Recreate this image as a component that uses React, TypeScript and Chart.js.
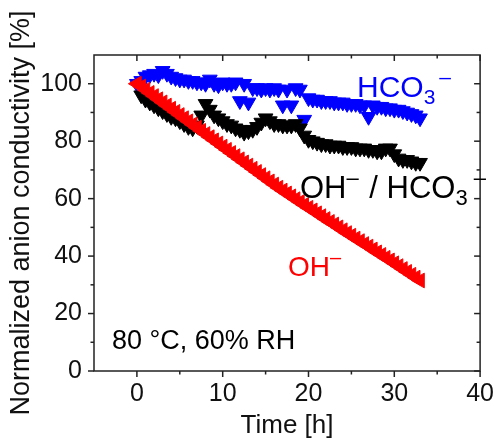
import React, { useEffect, useRef } from "react";
import { Chart, registerables } from "chart.js";

Chart.register(...registerables);

// ---- data ----
const hours = [
  0, 0.5, 1, 1.5, 2, 2.5, 3, 3.5, 4, 4.5,
  5, 5.5, 6, 6.5, 7, 7.5, 8, 8.5, 9, 9.5,
  10, 10.5, 11, 11.5, 12, 12.5, 13, 13.5, 14, 14.5,
  15, 15.5, 16, 16.5, 17, 17.5, 18, 18.5, 19, 19.5,
  20, 20.5, 21, 21.5, 22, 22.5, 23, 23.5, 24, 24.5,
  25, 25.5, 26, 26.5, 27, 27.5, 28, 28.5, 29, 29.5,
  30, 30.5, 31, 31.5, 32, 32.5, 33,
];

const ohValues = [
  100, 99.0, 97.9, 96.8, 95.7, 94.6, 93.5, 92.4, 91.3, 90.2,
  89.1, 88.0, 86.9, 85.8, 84.7, 83.6, 82.5, 81.4, 80.3, 79.2,
  78.1, 77.0, 75.9, 74.8, 73.7, 72.6, 71.5, 70.4, 69.3, 68.2,
  67.1, 66.0, 64.9, 63.8, 62.8, 61.8, 60.8, 59.8, 58.8, 57.8,
  56.8, 55.9, 54.9, 53.9, 52.9, 51.9, 51.0, 50.0, 49.0, 48.0,
  47.1, 46.1, 45.2, 44.2, 43.3, 42.3, 41.3, 40.4, 39.4, 38.5,
  37.5, 36.5, 35.5, 34.5, 33.5, 32.5, 31.5,
];

const mixedValues = [
  null, 96.0, 94.5, 93.5, 92.5, 91.5, 90.5, 89.5, 88.5, 88.0,
  87.0, 86.0, 85.0, 84.5, 85.5, 89.0, 93.0, 91.0, 89.0, 88.0,
  87.0, 86.0, 85.5, 84.5, 84.0, 83.0, 83.5, 84.0, 85.0, 86.5,
  88.0, 87.0, 86.0, 86.0, 85.5, 85.5, 85.5, 86.0, 84.5, 82.0,
  80.5, 80.0, 79.5, 79.0, 79.0, 78.5, 78.5, 78.5, 78.0, 78.0,
  78.0, 77.5, 77.5, 77.5, 77.0, 77.0, 76.5, 76.5, 77.5, 77.5,
  75.5, 74.0, 73.5, 73.5, 73.0, 72.5, 72.5,
];

const hco3Values = [
  100, 101.0, 102.5, 103.0, 103.5, 103.0, 104.5, 103.5, 102.5, 102.0,
  101.5, 101.5, 101.0, 101.0, 100.5, 100.5, 100.0, 101.5, 100.0, 99.5,
  100.5, 100.0, 100.0, 100.5, 94.0, 100.0, 93.5, 98.5, 98.5, 98.0,
  98.5, 98.0, 98.5, 98.0, 92.5, 98.0, 92.5, 98.5, 98.0, 87.5,
  95.0, 94.5, 94.5, 94.0, 94.0, 94.0, 93.5, 93.5, 93.5, 93.0,
  93.0, 93.0, 92.5, 92.5, 88.5, 92.5, 92.0, 92.0, 91.5, 91.5,
  91.0, 91.0, 90.5, 90.0, 89.5, 89.0, 88.0,
];

const xMajorTicks = [0, 10, 20, 30, 40];
const xMinorTicks = [5, 15, 25, 35];
const yMajorTicks = [0, 20, 40, 60, 80, 100];
const yMinorTicks = [10, 30, 50, 70, 90];

const FONT = '"Liberation Sans", Arial, Helvetica, sans-serif';

type Seg = { text: string; size: number; dy?: number; dx?: number };

function drawRich(ctx: CanvasRenderingContext2D, x: number, y: number, segs: Seg[], color: string) {
  ctx.fillStyle = color;
  ctx.textAlign = "left";
  ctx.textBaseline = "alphabetic";
  let cx = x;
  for (const s of segs) {
    ctx.font = `${s.size}px ${FONT}`;
    const dx = s.dx || 0;
    ctx.fillText(s.text, cx + dx, y + (s.dy || 0));
    cx += dx + ctx.measureText(s.text).width;
  }
}

const framePlugin = {
  id: "frameTicks",
  afterDraw(chart: any) {
    const { ctx, chartArea: a, scales } = chart;
    const xs = scales.x;
    const ys = scales.y;
    ctx.save();
    ctx.strokeStyle = "#222";
    ctx.lineWidth = 1.5;
    ctx.strokeRect(a.left, a.top, a.right - a.left, a.bottom - a.top);
    const tick = (x1: number, y1: number, x2: number, y2: number) => {
      ctx.beginPath();
      ctx.moveTo(x1, y1);
      ctx.lineTo(x2, y2);
      ctx.stroke();
    };
    for (const v of xMajorTicks) {
      const p = xs.getPixelForValue(v);
      tick(p, a.bottom, p, a.bottom + 6);
      tick(p, a.top, p, a.top + 6);
    }
    for (const v of xMinorTicks) {
      const p = xs.getPixelForValue(v);
      tick(p, a.bottom, p, a.bottom + 3.5);
      tick(p, a.top, p, a.top + 3.5);
    }
    for (const v of yMajorTicks) {
      const p = ys.getPixelForValue(v);
      tick(a.left - 6, p, a.left, p);
      tick(a.right - 6, p, a.right, p);
    }
    for (const v of yMinorTicks) {
      const p = ys.getPixelForValue(v);
      tick(a.left - 3.5, p, a.left, p);
      tick(a.right - 3.5, p, a.right, p);
    }
    ctx.restore();

    ctx.save();
    drawRich(ctx, 357, 97, [
      { text: "HCO", size: 30 },
      { text: "3", size: 21, dy: 7 },
      { text: "\u2013", size: 21, dy: -13, dx: 4 },
    ], "#0000ff");
    drawRich(ctx, 300, 198, [
      { text: "OH", size: 31 },
      { text: "\u2013", size: 22, dy: -13 },
      { text: " / HCO", size: 31, dx: 2 },
      { text: "3", size: 22, dy: 7 },
      { text: "\u2013", size: 22, dy: -13, dx: 6 },
    ], "#000000");
    drawRich(ctx, 288, 276, [
      { text: "OH", size: 28 },
      { text: "\u2013", size: 20, dy: -12 },
    ], "#ff0000");
    drawRich(ctx, 112, 349, [{ text: "80 \u00b0C, 60% RH", size: 27 }], "#000000");
    ctx.restore();
  },
};

function toPoints(vals: (number | null)[]) {
  const pts: { x: number; y: number }[] = [];
  hours.forEach((h, i) => {
    const v = vals[i];
    if (v !== null && v !== undefined) pts.push({ x: h, y: v });
  });
  return pts;
}

export default function App() {
  const ref = useRef<HTMLCanvasElement | null>(null);
  useEffect(() => {
    if (!ref.current) return;
    const chart = new Chart(ref.current, {
      type: "scatter",
      data: {
        datasets: [
          {
            label: "OH\u207b",
            data: toPoints(ohValues),
            backgroundColor: "#ff0000",
            borderColor: "#ff0000",
            pointStyle: "triangle",
            rotation: 270,
            pointRadius: 8.5,
            borderWidth: 1,
          },
          {
            label: "OH\u207b / HCO3\u207b",
            data: toPoints(mixedValues),
            backgroundColor: "#000000",
            borderColor: "#000000",
            pointStyle: "triangle",
            rotation: 180,
            pointRadius: 8.5,
            borderWidth: 1,
          },
          {
            label: "HCO3\u207b",
            data: toPoints(hco3Values),
            backgroundColor: "#0000ff",
            borderColor: "#0000ff",
            pointStyle: "triangle",
            rotation: 180,
            pointRadius: 8.5,
            borderWidth: 1,
          },
        ],
      },
      options: {
        responsive: false,
        animation: false,
        events: [],
        layout: { padding: { top: 55, right: 16, left: 0, bottom: 0 } },
        plugins: { legend: { display: false }, tooltip: { enabled: false } },
        scales: {
          x: {
            type: "linear",
            min: -5,
            max: 40,
            grid: { display: false, drawTicks: false },
            border: { display: false },
            ticks: {
              stepSize: 10,
              includeBounds: false,
              autoSkip: false,
              maxRotation: 0,
              padding: 8,
              color: "#111",
              font: { family: FONT, size: 25 },
            },
            title: {
              display: true,
              text: "Time [h]",
              color: "#111",
              font: { family: FONT, size: 26, lineHeight: 1.0 },
              padding: { top: 0, bottom: 1 },
            },
            afterFit: (s: any) => {
              s.height = 69;
            },
          },
          y: {
            type: "linear",
            min: 0,
            max: 110,
            grid: { display: false, drawTicks: false },
            border: { display: false },
            ticks: {
              stepSize: 20,
              includeBounds: false,
              autoSkip: false,
              padding: 12,
              color: "#111",
              font: { family: FONT, size: 25 },
            },
            title: {
              display: true,
              text: "Normalized anion conductivity [%]",
              color: "#111",
              font: { family: FONT, size: 27, lineHeight: 1.0 },
              padding: { top: 8, bottom: 0 },
            },
            afterFit: (s: any) => {
              s.width = 94;
            },
          },
        },
      },
      plugins: [framePlugin],
    });
    return () => chart.destroy();
  }, []);
  return (
    <div style={{ position: "fixed", left: 0, top: 0, width: 502, height: 440, background: "#fff" }}>
      <canvas ref={ref} width={502} height={440} />
    </div>
  );
}
